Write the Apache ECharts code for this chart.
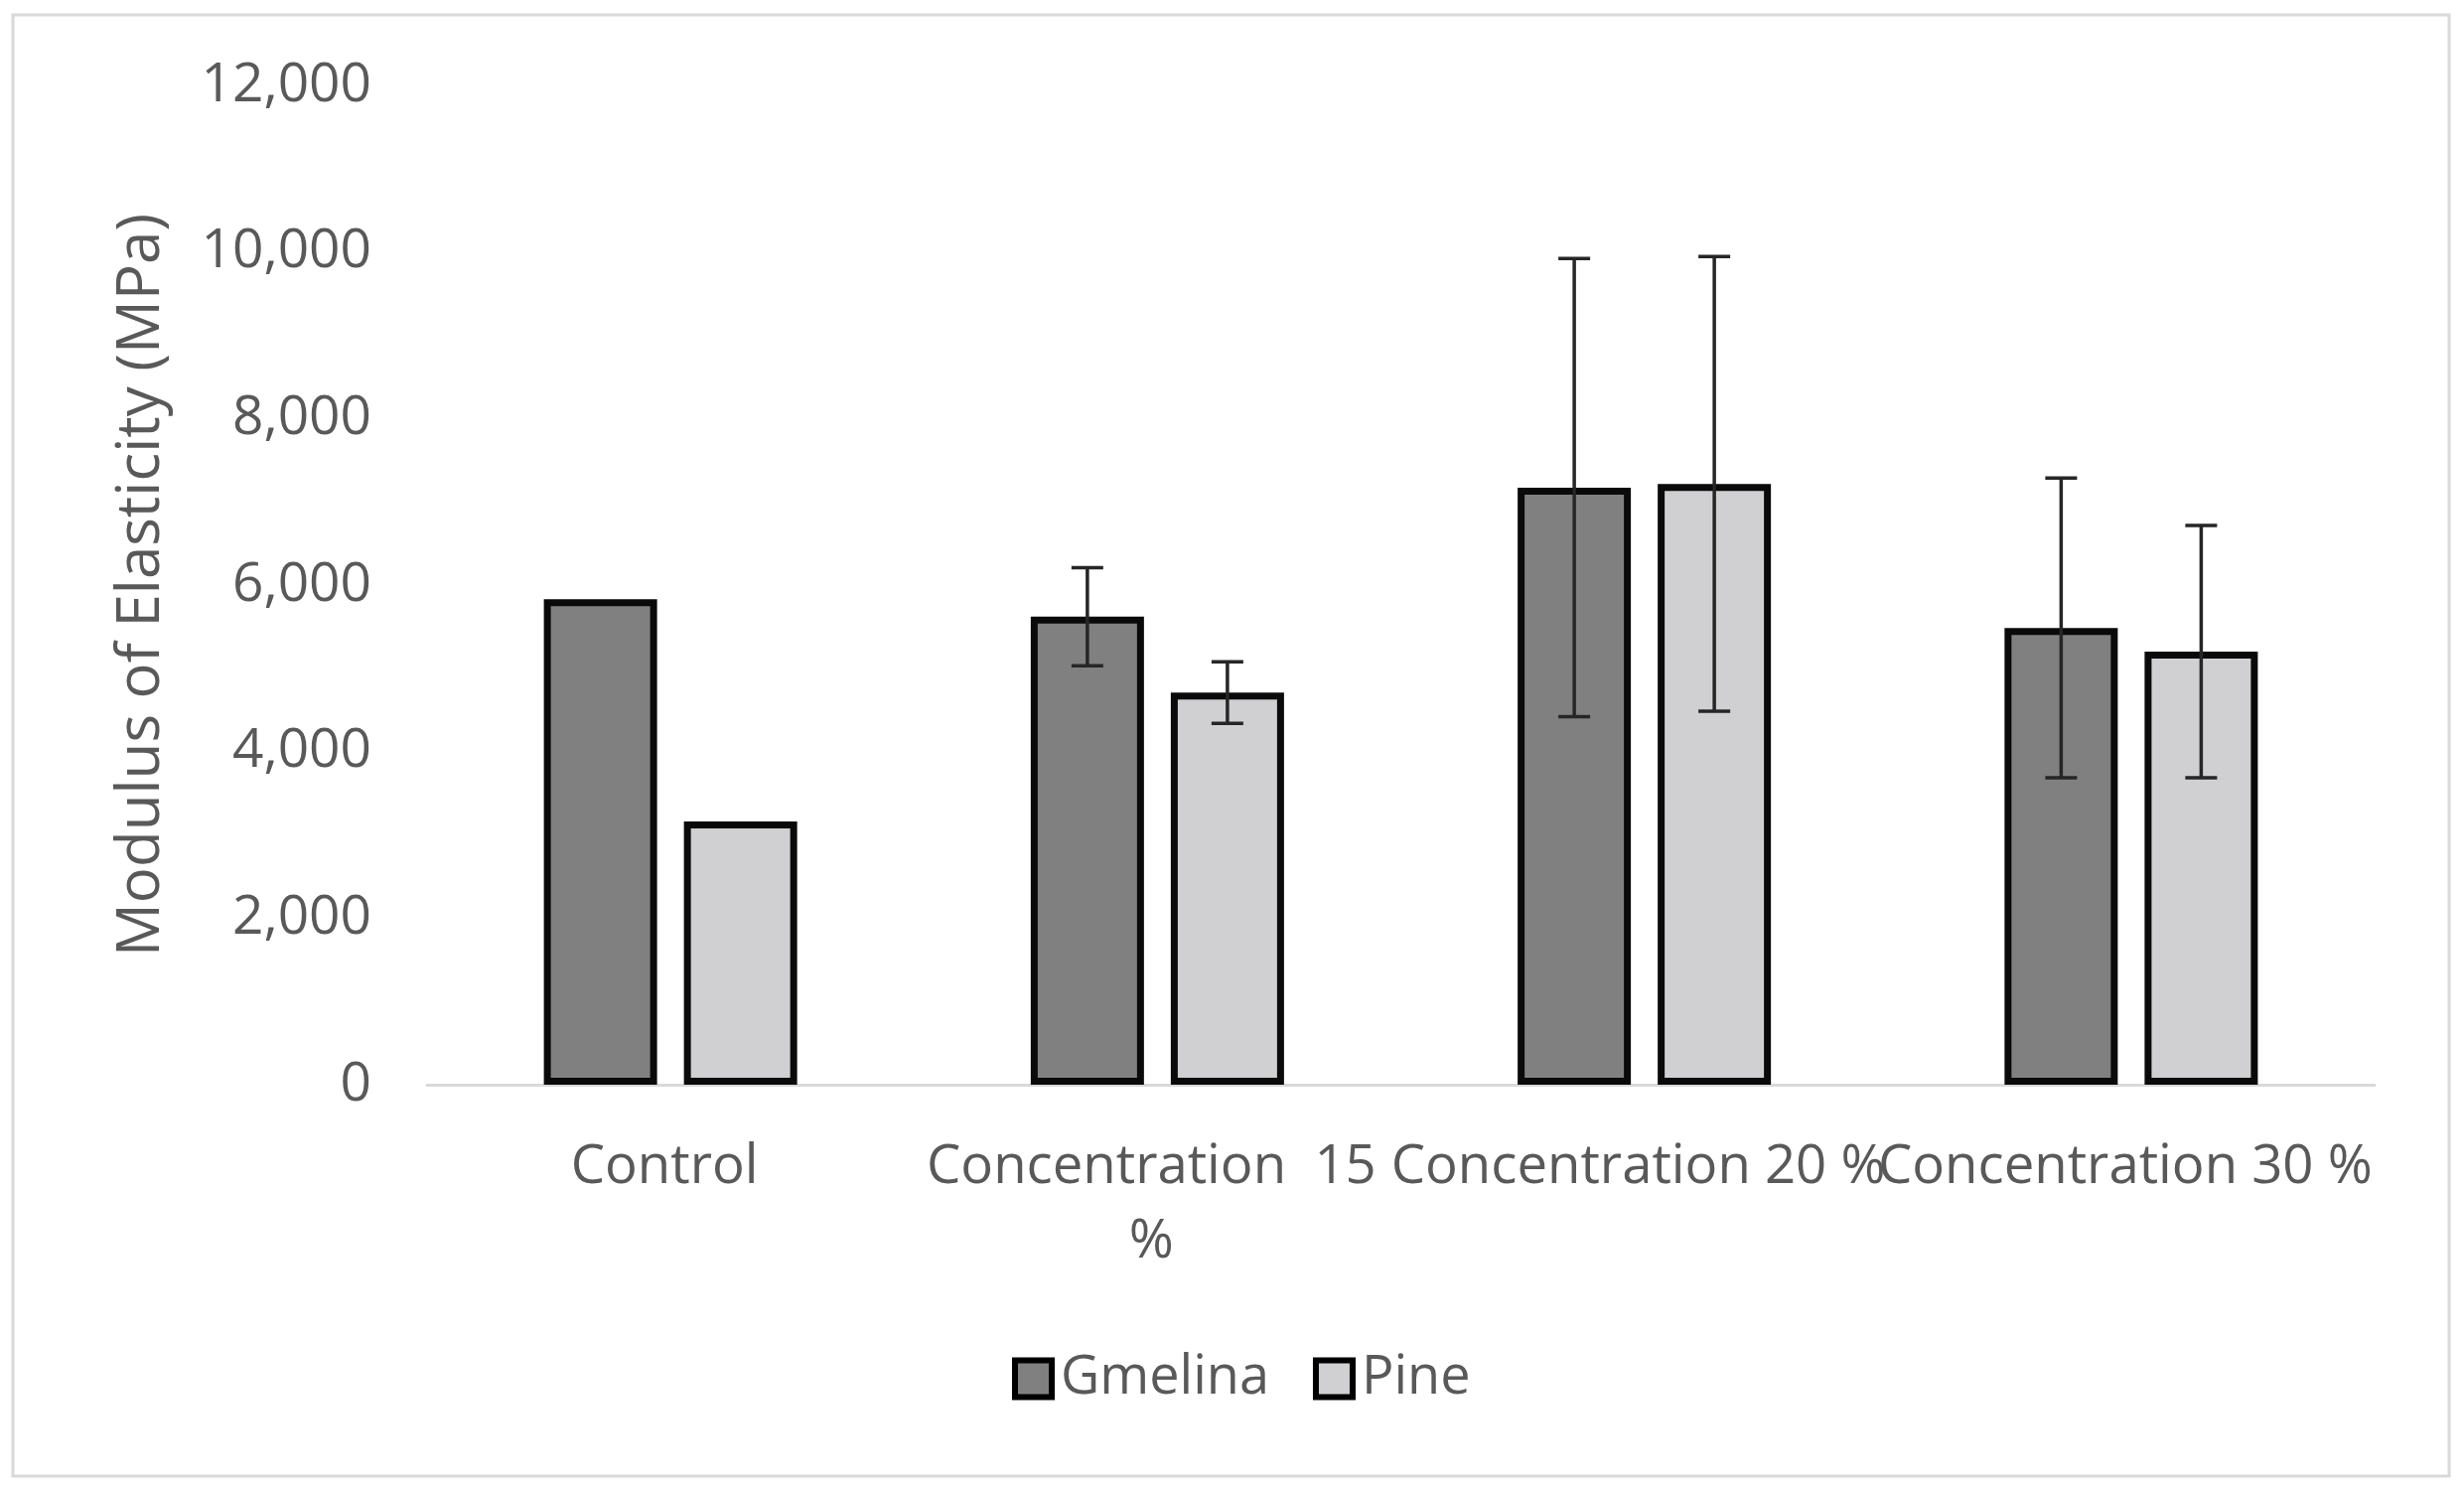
<!DOCTYPE html>
<html>
<head>
<meta charset="utf-8">
<script src="https://cdn.jsdelivr.net/npm/echarts@6/dist/echarts.min.js"></script>
<style>
html,body{margin:0;padding:0;background:#fff;}
#chart{width:2481px;height:1497px;}
</style>
</head>
<body>
<div id="chart"></div>
<script>
const categories = ['Control', 'Concentration 15 %', 'Concentration 20 %', 'Concentration 30 %'];
const seriesNames = ['Gmelina', 'Pine'];
const gmelinaValues = [5830, 5620, 7170, 5485];
const pineValues = [3160, 4710, 7215, 5200];
const gmelinaErrors = [null, 590, 2750, 1800];
const pineErrors = [null, 370, 2730, 1515];
const yTicks = [0, 2000, 4000, 6000, 8000, 10000, 12000];

const FONT = 'Open Sans';
const TXT = '#595959';
const BAR_W = 114;
const BAR_GAP = 0.237;
const OFFSET = (BAR_W + BAR_W * BAR_GAP) / 2;

function errorSeries(values, errors, sign, name) {
  const data = values.map((v, i) => [i, v, errors[i]]);
  return {
    type: 'custom',
    name: name + ' error',
    z: 10,
    silent: true,
    data: data,
    renderItem: function (params, api) {
      const e = api.value(2);
      if (e === null || e === undefined || isNaN(e)) return null;
      const i = api.value(0), v = api.value(1);
      const top = api.coord([i, v + e]);
      const bot = api.coord([i, v - e]);
      const x = top[0] + sign * OFFSET;
      const cap = 16;
      const st = { stroke: '#262626', lineWidth: 3.5 };
      return {
        type: 'group',
        children: [
          { type: 'line', shape: { x1: x, y1: top[1], x2: x, y2: bot[1] }, style: st },
          { type: 'line', shape: { x1: x - cap, y1: top[1], x2: x + cap, y2: top[1] }, style: st },
          { type: 'line', shape: { x1: x - cap, y1: bot[1], x2: x + cap, y2: bot[1] }, style: st }
        ]
      };
    }
  };
}

const chart = echarts.init(document.getElementById('chart'), null, { renderer: 'canvas' });
chart.setOption({
  animation: false,
  backgroundColor: '#fff',
  graphic: [{
    type: 'rect',
    shape: { x: 13, y: 15, width: 2453, height: 1471 },
    style: { fill: 'none', stroke: '#d9d9d9', lineWidth: 3 },
    silent: true
  }],
  grid: { left: 430, right: 90, top: 86, bottom: 405, containLabel: false },
  legend: {
    data: seriesNames,
    left: 1014,
    top: 1356,
    itemWidth: 37,
    itemHeight: 37,
    itemGap: 44,
    icon: 'rect',
    itemStyle: { borderColor: '#000', borderWidth: 6 },
    textStyle: { fontFamily: FONT, fontSize: 54, color: TXT, padding: [0, 0, 0, 4] }
  },
  xAxis: {
    type: 'category',
    data: categories,
    axisLine: { show: true, lineStyle: { color: '#d9d9d9', width: 3 } },
    axisTick: { show: false },
    axisLabel: {
      interval: 0,
      margin: 46,
      fontFamily: FONT,
      fontSize: 54.5,
      lineHeight: 75,
      color: TXT,
      padding: [0, 12, 0, 0],
      formatter: function (v) {
        return v === 'Concentration 15 %' ? 'Concentration  15\n%' : v;
      }
    }
  },
  yAxis: {
    type: 'value',
    min: 0,
    max: 12000,
    interval: 2000,
    name: 'Modulus of Elasticity (MPa)',
    nameLocation: 'middle',
    nameGap: 257,
    nameTextStyle: { fontFamily: FONT, fontSize: 60, color: TXT },
    axisLine: { show: false },
    axisTick: { show: false },
    splitLine: { show: false },
    axisLabel: {
      margin: 56,
      fontFamily: FONT,
      fontSize: 55,
      color: TXT,
      formatter: function (v) { return yTicks.indexOf(v) >= 0 ? v.toLocaleString('en-US') : ''; }
    }
  },
  series: [
    {
      type: 'bar',
      name: seriesNames[0],
      data: gmelinaValues,
      barWidth: BAR_W,
      barGap: (BAR_GAP * 100) + '%',
      itemStyle: { color: '#808080', borderColor: '#0a0a0a', borderWidth: 7 }
    },
    {
      type: 'bar',
      name: seriesNames[1],
      data: pineValues,
      barWidth: BAR_W,
      barGap: (BAR_GAP * 100) + '%',
      itemStyle: { color: '#d0cfd1', borderColor: '#0a0a0a', borderWidth: 7 }
    },
    errorSeries(gmelinaValues, gmelinaErrors, -1, seriesNames[0]),
    errorSeries(pineValues, pineErrors, 1, seriesNames[1])
  ]
});
</script>
</body>
</html>
